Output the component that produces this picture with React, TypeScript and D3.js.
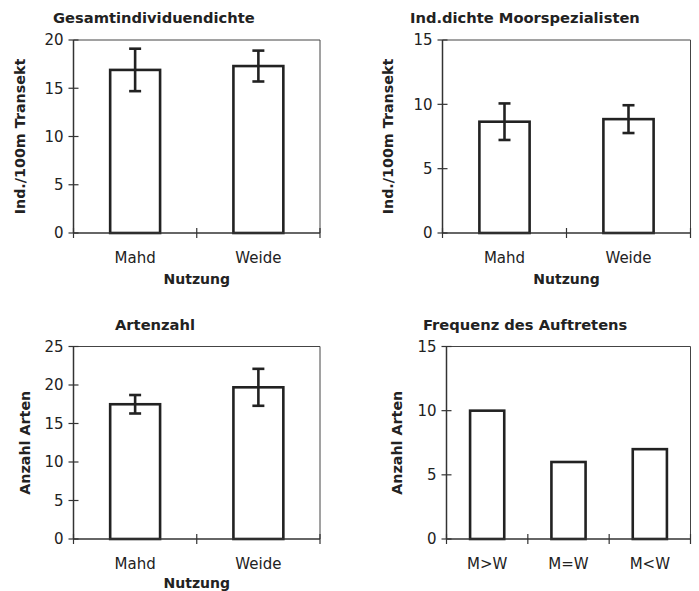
import React from "react";
import * as d3 from "d3";

const nutzung = ["Mahd", "Weide"];
const gesamtMean = [16.9, 17.3];
const gesamtErr = [2.2, 1.6];
const moorMean = [8.65, 8.85];
const moorErr = [1.42, 1.08];
const artenMean = [17.5, 19.7];
const artenErr = [1.2, 2.4];
const freqCats = ["M>W", "M=W", "M<W"];
const freqVals = [10, 6, 7];

const yTicks1 = [0, 5, 10, 15, 20];
const yTicks2 = [0, 5, 10, 15];
const yTicks3 = [0, 5, 10, 15, 20, 25];
const yTicks4 = [0, 5, 10, 15];

const FONT = "'DejaVu Sans', Verdana, sans-serif";
const TXT = "#222";

type PanelProps = {
  x0: number; x1: number; y0: number; y1: number;
  cats: string[]; vals: number[]; errs?: number[];
  yMax: number; ticks: number[];
  title: string; titleX: number; titleY: number;
  ylabel: string; ylabelX: number;
  xlabel?: string; xlabelY?: number;
  barRatio: number;
};

function Panel(p: PanelProps) {
  const x = d3.scaleBand<string>().domain(p.cats).range([p.x0, p.x1]).paddingInner(0).paddingOuter(0);
  const y = d3.scaleLinear().domain([0, p.yMax]).range([p.y1, p.y0]);
  const bw = x.bandwidth() * p.barRatio;
  const boundaries = d3.range(p.cats.length + 1).map((i) => p.x0 + i * x.bandwidth());
  return (
    <g>
      <line x1={p.x0} x2={p.x1} y1={p.y0} y2={p.y0} stroke="#444" strokeWidth={1} />
      <line x1={p.x1} x2={p.x1} y1={p.y0} y2={p.y1} stroke="#444" strokeWidth={1} />
      {p.vals.map((v, i) => {
        const cx = x(p.cats[i])! + x.bandwidth() / 2;
        return (
          <rect key={"b" + i} x={cx - bw / 2} y={y(v)} width={bw} height={y(0) - y(v)}
            fill="#fff" stroke="#222" strokeWidth={2.6} />
        );
      })}
      {p.errs && p.vals.map((v, i) => {
        const cx = x(p.cats[i])! + x.bandwidth() / 2;
        const e = p.errs![i];
        return (
          <g key={"e" + i} stroke="#222" strokeWidth={2.6}>
            <line x1={cx} x2={cx} y1={y(v + e)} y2={y(v - e)} />
            <line x1={cx - 6} x2={cx + 6} y1={y(v + e)} y2={y(v + e)} />
            <line x1={cx - 6} x2={cx + 6} y1={y(v - e)} y2={y(v - e)} />
          </g>
        );
      })}
      <line x1={p.x0} x2={p.x0} y1={p.y0} y2={p.y1} stroke="#333" strokeWidth={1.5} />
      <line x1={p.x0} x2={p.x1} y1={p.y1} y2={p.y1} stroke="#333" strokeWidth={1.5} />
      {p.ticks.map((t) => (
        <g key={"t" + t}>
          <line x1={p.x0 - 5} x2={p.x0 + 5} y1={y(t)} y2={y(t)} stroke="#333" strokeWidth={1.2} />
          <text x={p.x0 - 10} y={y(t)} dy="0.36em" textAnchor="end" fontSize={15} fill={TXT} fontFamily={FONT}>{t}</text>
        </g>
      ))}
      {boundaries.map((bx, i) => (
        <line key={"xt" + i} x1={bx} x2={bx} y1={p.y1 - 5} y2={p.y1 + 5} stroke="#333" strokeWidth={1.2} />
      ))}
      {p.cats.map((c) => (
        <text key={"xl" + c} x={x(c)! + x.bandwidth() / 2} y={p.y1 + 30} textAnchor="middle" fontSize={15} fill={TXT} fontFamily={FONT}>{c}</text>
      ))}
      <text x={p.titleX} y={p.titleY} fontSize={14.7} fontWeight="bold" fill={TXT} fontFamily={FONT}>{p.title}</text>
      <text transform={`translate(${p.ylabelX},${(p.y0 + p.y1) / 2}) rotate(-90)`} textAnchor="middle" dy="0.36em"
        fontSize={14.3} fontWeight="bold" fill={TXT} fontFamily={FONT}>{p.ylabel}</text>
      {p.xlabel && (
        <text x={(p.x0 + p.x1) / 2} y={p.xlabelY} textAnchor="middle" fontSize={14} fontWeight="bold" fill={TXT} fontFamily={FONT}>{p.xlabel}</text>
      )}
    </g>
  );
}

export default function App() {
  return (
    <svg width={699} height={591} style={{ position: "absolute", left: 0, top: 0, background: "#fff" }}>
      <rect width={699} height={591} fill="#fff" />
      <Panel x0={73.5} x1={320} y0={40} y1={233} cats={nutzung} vals={gesamtMean} errs={gesamtErr}
        yMax={20} ticks={yTicks1} title="Gesamtindividuendichte" titleX={53} titleY={23}
        ylabel="Ind./100m Transekt" ylabelX={20} xlabel="Nutzung" xlabelY={284} barRatio={0.405} />
      <Panel x0={442.5} x1={690.5} y0={40} y1={233} cats={nutzung} vals={moorMean} errs={moorErr}
        yMax={15} ticks={yTicks2} title="Ind.dichte Moorspezialisten" titleX={410} titleY={23}
        ylabel="Ind./100m Transekt" ylabelX={388} xlabel="Nutzung" xlabelY={284} barRatio={0.405} />
      <Panel x0={73.5} x1={320} y0={346.5} y1={539} cats={nutzung} vals={artenMean} errs={artenErr}
        yMax={25} ticks={yTicks3} title="Artenzahl" titleX={115} titleY={330}
        ylabel="Anzahl Arten" ylabelX={25} xlabel="Nutzung" xlabelY={588} barRatio={0.405} />
      <Panel x0={446.5} x1={690.5} y0={346.5} y1={539} cats={freqCats} vals={freqVals}
        yMax={15} ticks={yTicks4} title="Frequenz des Auftretens" titleX={423} titleY={330}
        ylabel="Anzahl Arten" ylabelX={397} barRatio={0.42} />
    </svg>
  );
}
